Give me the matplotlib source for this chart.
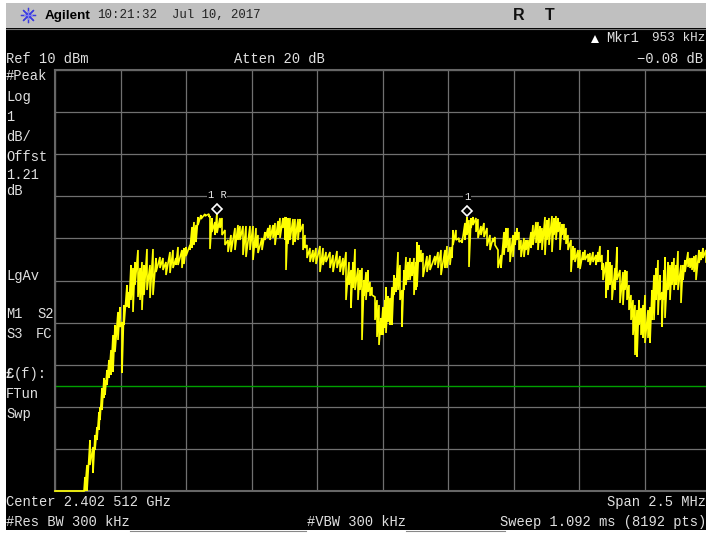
import numpy as np
import matplotlib
matplotlib.use('Agg')
import matplotlib.pyplot as plt
from matplotlib.patches import Rectangle

W, H = 706, 536

center_label = 'Center 2.402 512 GHz'
ref_db = 10
db_per_div = 1
span_mhz = 2.5

# trace: sweep bin (655 bins = full span), upper and lower
# level of the envelope in counts above the bottom graticule (421 counts = 10 dB)
trace_bin = [0, 29, 30, 32, 35, 38, 40, 42, 44, 45, 47, 49, 50, 52, 54, 56, 58, 60, 63, 65, 67, 69, 72, 74, 76, 78, 80, 83, 85, 87, 89, 92, 95, 98, 101, 105, 108, 111, 115, 118, 121, 123, 127, 129, 131, 135, 137, 139, 141, 143, 146, 150, 154, 155, 157, 160, 162, 165, 167, 170, 173, 176, 180, 183, 185, 188, 191, 195, 198, 201, 203, 207, 210, 213, 215, 218, 220, 223, 225, 228, 230, 231, 233, 235, 238, 240, 243, 245, 248, 250, 252, 255, 258, 261, 265, 268, 271, 275, 278, 282, 285, 288, 291, 294, 296, 298, 300, 303, 305, 307, 309, 311, 313, 315, 317, 320, 322, 324, 326, 328, 330, 331, 333, 335, 337, 339, 341, 343, 345, 347, 349, 351, 353, 355, 357, 359, 361, 362, 364, 366, 368, 372, 375, 380, 383, 386, 390, 392, 395, 397, 398, 401, 404, 407, 410, 412, 414, 416, 418, 421, 423, 426, 429, 432, 435, 438, 440, 443, 446, 449, 451, 453, 455, 458, 460, 462, 464, 466, 469, 471, 473, 476, 478, 481, 483, 485, 487, 490, 492, 494, 497, 499, 501, 503, 505, 507, 509, 511, 513, 516, 518, 520, 523, 525, 528, 530, 533, 535, 538, 541, 543, 545, 547, 548, 551, 553, 555, 557, 560, 562, 565, 568, 570, 572, 574, 576, 578, 580, 582, 584, 586, 588, 590, 593, 595, 597, 599, 601, 603, 605, 607, 609, 610, 613, 615, 617, 619, 621, 623, 626, 628, 630, 633, 635, 637, 639, 641, 644, 646, 648, 651]
trace_hi = [0, 0, 14, 26, 51, 44, 56, 64, 79, 84, 103, 113, 111, 121, 131, 141, 156, 166, 179, 184, 169, 186, 206, 199, 226, 223, 229, 241, 223, 229, 226, 242, 226, 242, 233, 234, 233, 229, 239, 241, 233, 244, 241, 243, 244, 246, 264, 269, 266, 274, 276, 277, 277, 275, 273, 269, 279, 273, 273, 261, 251, 256, 263, 266, 265, 265, 265, 265, 265, 263, 256, 253, 259, 263, 266, 266, 268, 270, 273, 273, 274, 274, 273, 273, 272, 272, 272, 272, 267, 256, 246, 243, 241, 243, 245, 243, 239, 239, 236, 240, 235, 233, 239, 229, 221, 229, 242, 223, 221, 223, 211, 219, 221, 209, 204, 194, 191, 186, 173, 184, 191, 204, 195, 193, 204, 216, 213, 239, 226, 201, 221, 234, 229, 233, 229, 233, 229, 249, 246, 241, 238, 235, 236, 235, 239, 241, 241, 245, 244, 244, 261, 261, 253, 251, 268, 274, 271, 273, 274, 273, 272, 265, 268, 263, 256, 253, 254, 241, 236, 259, 263, 263, 253, 256, 259, 263, 259, 251, 253, 251, 251, 259, 266, 269, 269, 265, 263, 274, 271, 273, 275, 273, 275, 273, 269, 267, 267, 263, 256, 251, 245, 243, 241, 241, 239, 241, 237, 238, 239, 236, 239, 245, 236, 228, 229, 241, 229, 226, 223, 244, 221, 219, 221, 220, 206, 196, 191, 186, 181, 191, 183, 186, 196, 181, 184, 201, 216, 223, 231, 216, 199, 221, 234, 229, 226, 229, 233, 226, 240, 226, 226, 231, 239, 233, 233, 235, 236, 241, 239, 243, 241]
trace_lo = [0, 0, 0, 0, 26, 18, 41, 51, 61, 71, 81, 93, 96, 106, 113, 116, 119, 139, 151, 164, 118, 166, 184, 183, 191, 179, 206, 194, 191, 181, 196, 201, 193, 196, 219, 223, 221, 216, 218, 223, 226, 226, 223, 227, 235, 241, 243, 246, 249, 266, 272, 275, 274, 242, 259, 256, 258, 263, 256, 246, 239, 239, 241, 251, 251, 236, 234, 241, 231, 243, 238, 241, 251, 253, 251, 253, 246, 256, 253, 263, 251, 221, 247, 251, 246, 249, 251, 259, 241, 243, 233, 229, 229, 227, 219, 226, 229, 223, 219, 223, 219, 216, 191, 206, 183, 203, 201, 191, 201, 151, 195, 191, 199, 195, 196, 171, 154, 146, 156, 156, 163, 158, 169, 166, 166, 196, 199, 201, 191, 164, 201, 206, 211, 211, 215, 196, 201, 204, 229, 229, 214, 219, 221, 226, 223, 216, 223, 223, 226, 233, 246, 251, 249, 248, 251, 256, 224, 263, 266, 259, 253, 256, 254, 245, 241, 249, 246, 223, 223, 236, 243, 239, 229, 234, 246, 251, 241, 234, 234, 241, 236, 243, 246, 248, 241, 248, 241, 236, 251, 246, 239, 256, 251, 259, 241, 256, 251, 247, 241, 219, 231, 229, 223, 222, 231, 231, 229, 226, 229, 226, 229, 229, 221, 211, 193, 201, 206, 191, 201, 211, 188, 186, 201, 191, 181, 171, 156, 136, 134, 166, 156, 153, 148, 153, 148, 171, 171, 191, 176, 191, 164, 191, 173, 201, 191, 206, 201, 206, 201, 188, 211, 219, 224, 223, 221, 219, 211, 228, 231, 233, 229]

marker_bins = [162, 412]
marker_counts = [282, 280]
marker_labels = ['1 R', '1']
display_line_db = 2.49

left_labels = ['#Peak', 'Log', '1', 'dB/', 'Offst', '1.21', 'dB', 'LgAv', 'M1', 'S3', 'FTun', 'Swp']
left_label_y = [76, 97, 117, 137, 157, 175, 191, 276, 314, 334, 394, 414]

freq = np.array(trace_bin) * span_mhz / 655 - span_mhz / 2
hi = np.array(trace_hi) * 10 / 421
lo = np.array(trace_lo) * 10 / 421
trace_x = np.column_stack([freq, freq]).ravel()
trace_y = np.column_stack([hi, lo]).ravel()

mono = 'Liberation Mono'
plt.rcParams['font.family'] = mono
fig = plt.figure(figsize=(W / 100, H / 100), dpi=100, facecolor='white')

# screen furniture in pixel coordinates
bg = fig.add_axes([0, 0, 1, 1])
bg.set_xlim(0, W)
bg.set_ylim(H, 0)
bg.axis('off')
bg.add_patch(Rectangle((6, 3), W - 6, 527, color='black', lw=0))
bg.add_patch(Rectangle((6, 3), W - 6, 25, color='#c0c0c0', lw=0))
bg.plot([6, W], [28.5, 28.5], color='#777777', lw=0.8)
bg.plot([28], [15], marker=(8, 2, 0), ms=11, color='#3a3ae0', mew=0.9)
bg.plot([28], [15], marker=(4, 2, 0), ms=6, color='#8080f0', mew=0.8)

# title bar
bg.text(45, 15.5, 'Agilent', family='Liberation Sans', weight='bold', fontsize=9.7, color='black', va='center')
bg.text(97, 15.5, '10:21:32', fontsize=9.0, color='#222222', va='center')
bg.text(172, 15.5, 'Jul 10, 2017', fontsize=8.9, color='#222222', va='center')
bg.text(513, 15.5, 'R', family='Liberation Sans', fontsize=11.5, weight='bold', color='#111111', va='center')
bg.text(545, 15.5, 'T', family='Liberation Sans', fontsize=11.5, weight='bold', color='#111111', va='center')

txt = dict(color='#e0e0e0', fontsize=9.9, va='center')
bg.text(6, 59, 'Ref 10 dBm', **txt)
bg.text(234, 59, 'Atten 20 dB', **txt)
bg.text(606, 38, 'Mkr1', **txt)
bg.text(705, 38, '953 kHz', ha='right', color='#e0e0e0', fontsize=9.1, va='center')
bg.text(703, 59, '\u22120.08 dB', ha='right', **txt)
bg.plot([595], [38.5], marker='^', ms=5.5, color='white', mew=0)
for s, y in zip(left_labels, left_label_y):
    bg.text(6, y, s, **txt)
bg.text(37, 314, 'S2', **txt)
bg.text(36, 334, 'FC', **txt)
bg.text(6, 374, '\u00a3', weight='bold', **txt)
bg.text(14, 374, '(f):', **txt)
bg.text(6, 502, center_label, **txt)
bg.text(6, 522, '#Res BW 300 kHz', **txt)
bg.text(307, 522, '#VBW 300 kHz', **txt)
bg.text(706, 502, 'Span 2.5 MHz', ha='right', **txt)
bg.text(706, 522, 'Sweep 1.092 ms (8192 pts)', ha='right', **txt)
bg.plot([130, 306], [530.5, 530.5], color='#888888', lw=0.8)
bg.plot([406, 505], [530.5, 530.5], color='#888888', lw=0.8)

# the trace window: left edge 55, top 70, bottom 491, 65.5 px per division
ax = fig.add_axes([55 / W, 1 - 491 / H, (W - 55) / W, 421 / H])
ax.patch.set_alpha(0)
ax.set_xticks(np.arange(-1.25, 1.3, 0.25))
ax.set_yticks(np.arange(0, 11, db_per_div))
ax.set_xlim(-span_mhz / 2, -span_mhz / 2 + (W - 55) / 655 * span_mhz)
ax.set_ylim(ref_db - 10 * db_per_div, ref_db)
ax.tick_params(length=0, labelbottom=False, labelleft=False)
ax.grid(True, color='#707070', lw=0.9)
ax.set_axisbelow(True)
for side in ['top', 'left', 'bottom']:
    ax.spines[side].set_color('#666666')
    ax.spines[side].set_linewidth(1.5)
ax.spines['right'].set_visible(False)

ax.axhline(display_line_db, color='#00a000', lw=1)
ax.plot(trace_x, trace_y, color='#ffff00', lw=1.2, solid_joinstyle='miter', clip_on=False, zorder=3)

for b, c, s in zip(marker_bins, marker_counts, marker_labels):
    fx = b * span_mhz / 655 - span_mhz / 2
    fy = c * 10 / 421
    ax.plot([fx], [fy], marker='D', ms=5.5, mfc='black', mec='white', mew=1.2, zorder=5)
    ax.annotate(s, (fx, fy), xytext=(0, 10), textcoords='offset points', ha='center', va='center',
                color='#e8e8e8', fontsize=7.5, zorder=5,
                bbox=dict(facecolor='black', edgecolor='none', pad=0.6))

plt.savefig('out.png', dpi=100)
